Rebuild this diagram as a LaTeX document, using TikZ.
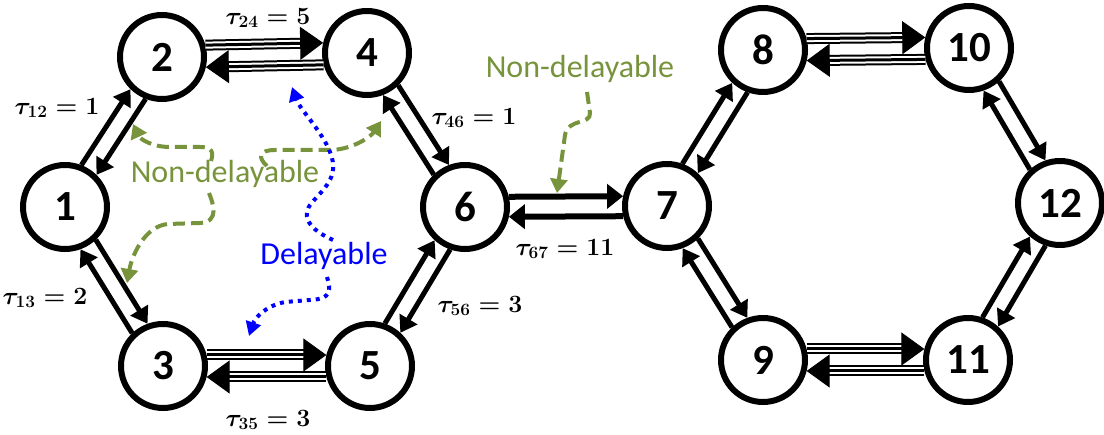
\documentclass[tikz,border=0pt]{standalone}
\usepackage[no-math]{fontspec}
\usepackage{amsmath}
\usetikzlibrary{calc,arrows.meta}
\newfontfamily\calibfont{Carlito}
\definecolor{ndgreen}{HTML}{77933C}
\definecolor{dblue}{HTML}{0000FF}
% pair of opposite arrows between two nodes, each shifted to its own left
\newcommand{\pairarrows}[5]{%
  \draw[#5] ($(#1.center)!#4!(#2.center)!#3!90:(#2.center)$) -- ($(#2.center)!#4!(#1.center)!#3!-90:(#1.center)$);
  \draw[#5] ($(#2.center)!#4!(#1.center)!#3!90:(#1.center)$) -- ($(#1.center)!#4!(#2.center)!#3!-90:(#2.center)$);
}
% triple-line arrow from #1 to #2, shifted to its left
\newcommand{\triplearrow}[2]{%
  \coordinate (ts) at ($(#1.center)!43.63pt!(#2.center)!11pt!90:(#2.center)$);
  \coordinate (te) at ($(#2.center)!43.63pt!(#1.center)!11pt!-90:(#1.center)$);
  \draw[line width=11pt, shorten >=18pt] (ts) -- (te);
  \draw[white, line width=7pt, shorten >=18pt] (ts) -- (te);
  \draw[line width=3pt, shorten >=18pt] (ts) -- (te);
  \draw[line width=1pt, -{Triangle[length=23pt,width=33pt]}] ($(te)!24pt!(ts)$) -- (te);
}
\begin{document}
\begin{tikzpicture}[x=1pt,y=-1pt,
  vertex/.style={circle, draw, line width=6pt, minimum size=84pt, inner sep=0pt, fill=white,
    font=\calibfont\bfseries\fontsize{43}{43}\selectfont},
  solidarr/.style={line width=5pt, -{Triangle[length=16pt,width=20pt]}},
  midarr/.style={line width=6pt, -{Triangle[length=16pt,width=24pt]}},
  tlabel/.style={font=\fontsize{24}{26}\selectfont\boldmath, inner sep=0pt},
  ndash/.style={ndgreen, line width=4pt, dash pattern=on 12pt off 6pt, -{Triangle[length=14pt,width=17pt]}},
  dlydot/.style={dblue, line width=4pt, dash pattern=on 4pt off 5pt, -{Triangle[length=14pt,width=15pt]}},
  annot/.style={font=\calibfont\fontsize{32}{32}\selectfont, inner sep=0pt, anchor=base}]
\useasboundingbox (0,0) rectangle (1104,435);

% nodes
\node[vertex] (n1) at (65,207) {1};
\node[vertex] (n2) at (162,57) {2};
\node[vertex] (n3) at (163,366) {3};
\node[vertex] (n4) at (367,53) {4};
\node[vertex] (n5) at (370,366) {5};
\node[vertex] (n6) at (465,207) {6};
\node[vertex] (n7) at (667,206) {7};
\node[vertex] (n8) at (763,50) {8};
\node[vertex] (n9) at (763,360) {9};
\node[vertex] (n10) at (969,48) {10};
\node[vertex] (n11) at (968,360) {11};
\node[vertex] (n12) at (1060,203) {12};

% diagonal edges
\pairarrows{n1}{n2}{9pt}{44.09pt}{solidarr}
\pairarrows{n1}{n3}{9pt}{44.09pt}{solidarr}
\pairarrows{n4}{n6}{9pt}{44.09pt}{solidarr}
\pairarrows{n5}{n6}{9pt}{44.09pt}{solidarr}
\pairarrows{n7}{n8}{9pt}{44.09pt}{solidarr}
\pairarrows{n7}{n9}{9pt}{44.09pt}{solidarr}
\pairarrows{n10}{n12}{9pt}{44.09pt}{solidarr}
\pairarrows{n11}{n12}{9pt}{44.09pt}{solidarr}
\pairarrows{n6}{n7}{10pt}{43.87pt}{midarr}

% triple edges
\triplearrow{n2}{n4}
\triplearrow{n4}{n2}
\triplearrow{n3}{n5}
\triplearrow{n5}{n3}
\triplearrow{n8}{n10}
\triplearrow{n10}{n8}
\triplearrow{n9}{n11}
\triplearrow{n11}{n9}

% delay labels
\node[tlabel] (l12) at (57,108) {$\tau_{12} = 1$};
\node[tlabel] (l13) at (45,298) {$\tau_{13} = 2$};
\node[tlabel] (l24) at (268,18) {$\tau_{24} = 5$};
\node[tlabel] (l35) at (268,420) {$\tau_{35} = 3$};
\node[tlabel] (l46) at (474,118) {$\tau_{46} = 1$};
\node[tlabel] (l56) at (480,306) {$\tau_{56} = 3$};
\node[tlabel] (l67) at (565,249) {$\tau_{67} = 11$};

% annotations
\draw[ndash] (211,161) .. controls (214,152) and (212,147) .. (200,147) -- (170,147) .. controls (152,147) and (140,139) .. (133,124);
\draw[ndash] (209,193) .. controls (213,203) and (220,222) .. (200,223) -- (168,224) .. controls (145,226) and (132,255) .. (127,283);
\draw[ndash] (267,166) .. controls (258,158) and (258,150) .. (275,150) -- (330,150) .. controls (350,150) and (370,138) .. (381,121);
\draw[ndash] (587,92) -- (590,113) .. controls (591,125) and (568,118) .. (565,135) -- (557,193);

\draw[dlydot] (333,240) .. controls (315,232) and (300,220) .. (310,205) .. controls (320,192) and (338,180) .. (332,158) .. controls (326,135) and (300,110) .. (292,87);
\draw[dlydot] (327,277) .. controls (331,290) and (332,299) .. (310,300) -- (285,302) .. controls (265,306) and (255,318) .. (249,336);

\node[annot, ndgreen] (ndl) at (225,183) {Non-delayable};
\node[annot, ndgreen] (ndr) at (580,78) {Non-delayable};
\node[annot, dblue] (dl) at (324,265) {Delayable};
\end{tikzpicture}
\end{document}
